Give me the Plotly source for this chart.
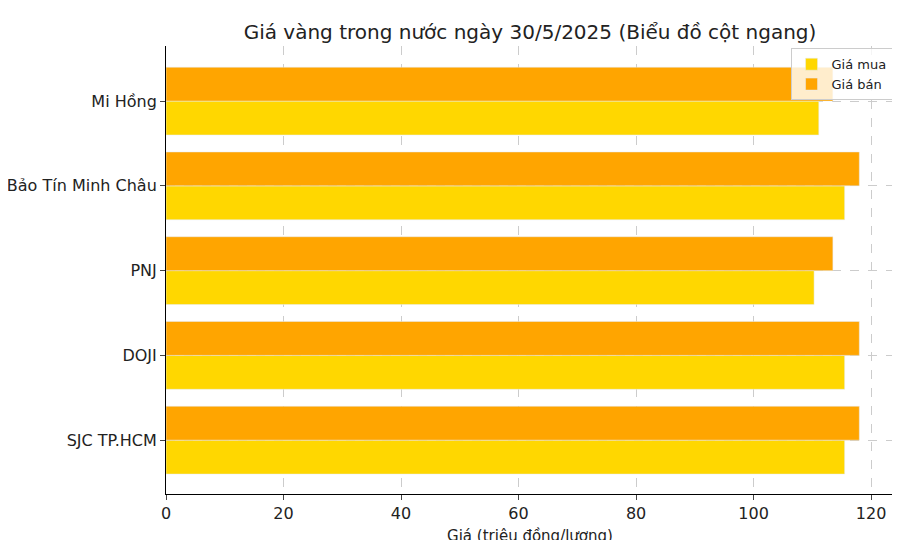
import plotly.graph_objects as go

categories = ["SJC TP.HCM", "DOJI", "PNJ", "Bảo Tín Minh Châu", "Mi Hồng"]
gia_mua = [115.5, 115.5, 110.3, 115.5, 111.1]
gia_ban = [118.0, 118.0, 113.5, 118.0, 113.5]

fig = go.Figure()
fig.add_trace(go.Bar(y=categories, x=gia_mua, orientation="h", name="Giá mua", marker_color="#FFD700"))
fig.add_trace(go.Bar(y=categories, x=gia_ban, orientation="h", name="Giá bán", marker_color="#FFA500"))

fig.update_layout(
    width=900, height=540, barmode="group", bargap=0.2, bargroupgap=0,
    plot_bgcolor="white", paper_bgcolor="white",
    font=dict(family="DejaVu Sans", size=16, color="#222"),
    title=dict(text="Giá vàng trong nước ngày 30/5/2025 (Biểu đồ cột ngang)", x=0.58, xanchor="center",
               y=0.955, yref="container", yanchor="middle", automargin=False, font=dict(size=20)),
    margin=dict(l=158, r=14, t=38, b=54),
    legend=dict(x=0.998, y=0.995, xanchor="right", yanchor="top", bordercolor="#ccc", borderwidth=1,
                bgcolor="rgba(255,255,255,0.8)", font=dict(size=13), traceorder="normal"),
    xaxis=dict(range=[0, 123.9], tickvals=[0, 20, 40, 60, 80, 100, 120], showgrid=True, gridcolor="#ccc",
               griddash="dash", showline=True, linecolor="black", ticks="outside", zeroline=False,
               automargin=False, title=dict(text="Giá (triệu đồng/lượng)", font=dict(size=15), standoff=8)),
    yaxis=dict(range=[-0.635, 4.65], showgrid=True, gridcolor="#ccc", griddash="dash", showline=True,
               linecolor="black", ticks="outside", automargin=False),
)
fig.write_html("out.html")
